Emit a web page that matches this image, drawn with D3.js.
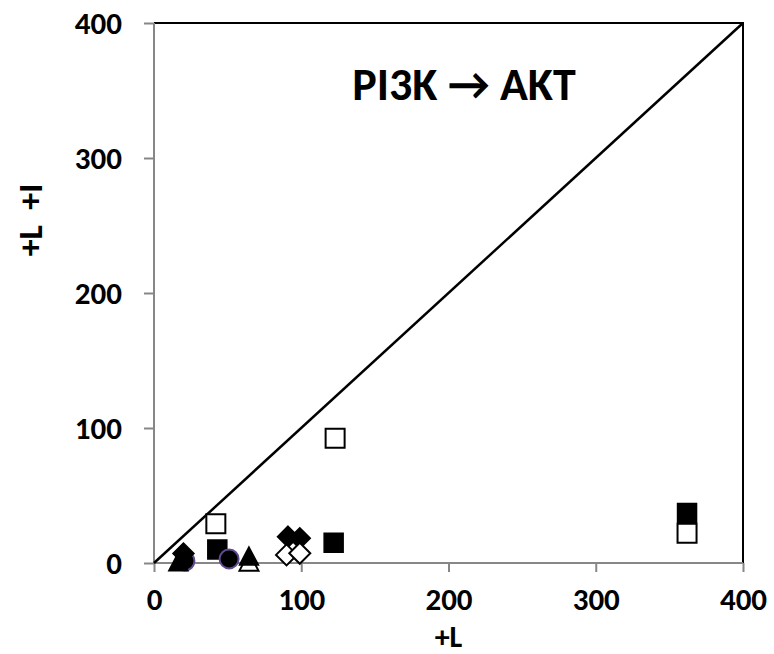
<!DOCTYPE html>
<html>
<head>
<meta charset="utf-8">
<script src="https://cdn.jsdelivr.net/npm/d3@7"></script>
<style>
  html, body { margin: 0; padding: 0; background: #fff; }
  svg text { font-family: "Carlito", "Open Sans", "Lato", sans-serif; font-weight: bold; fill: #000; }
</style>
</head>
<body>
<svg id="chart" width="774" height="654"></svg>
<script>
// Axis ticks
const xTicks = [0, 100, 200, 300, 400];
const yTicks = [0, 100, 200, 300, 400];

// Marker series: [x (+L), y (+L +I)]
const filledSquares   = [[43, 10], [122, 15], [362, 37]];
const openSquares     = [[42, 29], [123, 92.5], [362, 22]];
const filledDiamonds  = [[20, 7], [91, 19.5], [99, 18.3]];
const openDiamonds    = [[90, 6], [99, 7.2]];
const openTriangles   = [[64.5, 1]];
const filledTriangles = [[16.5, 1], [64.5, 5.2]];
const circles         = [[21, 1.5], [51, 3]];

// Identity reference line endpoints
const identityLine = [[0, 0], [400, 400]];

const svg = d3.select("#chart");
const margin = { left: 154, right: 31, top: 23, bottom: 91 };
const W = 774, H = 654;

const x = d3.scaleLinear().domain([0, 400]).range([margin.left, W - margin.right]);
const y = d3.scaleLinear().domain([0, 400]).range([H - margin.bottom, margin.top]);

const axisGrey = "#878787";

// Plot frame: black top/right edges
svg.append("path")
  .attr("d", `M${x(0)},${y(400)} H${x(400)} V${y(0)}`)
  .attr("fill", "none").attr("stroke", "#000").attr("stroke-width", 2);

// Left axis
const yAxis = svg.append("g").attr("transform", `translate(${x(0)},0)`)
  .call(d3.axisLeft(y).tickValues(yTicks).tickSize(10).tickPadding(22).tickFormat(d3.format("d")));
yAxis.select(".domain").attr("stroke", axisGrey).attr("stroke-width", 2).attr("d", `M0,${y(400)}V${y(0)}`);
yAxis.selectAll(".tick line").attr("stroke", axisGrey).attr("stroke-width", 2);
yAxis.selectAll(".tick text").style("font-size", "31px").attr("dy", "0.33em");

// Bottom axis
const xAxis = svg.append("g").attr("transform", `translate(0,${y(0)})`)
  .call(d3.axisBottom(x).tickValues(xTicks).tickSize(9).tickPadding(16).tickFormat(d3.format("d")));
xAxis.select(".domain").attr("stroke", axisGrey).attr("stroke-width", 2).attr("d", `M${x(0)},0H${x(400)}`);
xAxis.selectAll(".tick line").attr("stroke", axisGrey).attr("stroke-width", 2);
xAxis.selectAll(".tick text").style("font-size", "31px");

// Identity line
svg.append("path")
  .datum(identityLine)
  .attr("d", d3.line().x(d => x(d[0])).y(d => y(d[1])))
  .attr("fill", "none").attr("stroke", "#000").attr("stroke-width", 2.5);

// Marker shape paths centred on (0,0)
const sq = 9.5, dm = 10.5, tw = 9.5, th = 9;
const squarePath = `M${-sq},${-sq}H${sq}V${sq}H${-sq}Z`;
const diamondPath = `M0,${-dm}L${dm},0L0,${dm}L${-dm},0Z`;
const trianglePath = `M0,${-th}L${tw},${th}H${-tw}Z`;

function markers(data, path, fill, stroke, sw) {
  svg.append("g").selectAll("path").data(data).join("path")
    .attr("transform", d => `translate(${x(d[0])},${y(d[1])})`)
    .attr("d", path)
    .attr("fill", fill).attr("stroke", stroke).attr("stroke-width", sw);
}

markers(filledSquares, squarePath, "#000", "#000", 1.5);
markers(openSquares, squarePath, "#fff", "#000", 2);
svg.append("g").selectAll("circle").data(circles).join("circle")
  .attr("cx", d => x(d[0])).attr("cy", d => y(d[1])).attr("r", 9.5)
  .attr("fill", "#000").attr("stroke", "#5e4a8f").attr("stroke-width", 2);
markers(openTriangles, trianglePath, "#fff", "#000", 2);
markers(filledTriangles, trianglePath, "#000", "#000", 1.5);
markers(filledDiamonds, diamondPath, "#000", "#000", 1.5);
markers(openDiamonds, diamondPath, "#fff", "#000", 2);

// Title
svg.append("text").attr("x", 464).attr("y", 100).attr("text-anchor", "middle")
  .style("font-size", "46px").text("PI3K \u2192 AKT");

// Axis titles
svg.append("text").attr("x", x(200)).attr("y", 647).attr("text-anchor", "middle")
  .style("font-size", "30px").text("+L");
svg.append("text").attr("transform", "translate(42,220) rotate(-90)")
  .attr("text-anchor", "middle").style("font-size", "34px").style("white-space", "pre")
  .text("+L  +I");
</script>
</body>
</html>
